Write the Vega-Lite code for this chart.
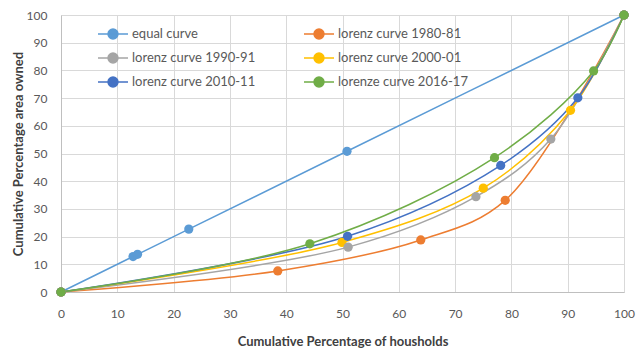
{
  "$schema": "https://vega.github.io/schema/vega-lite/v6.json",
  "width": 563,
  "height": 277,
  "autosize": {"type": "none"},
  "padding": {"left": 61, "top": 15, "right": 20, "bottom": 64},
  "background": "white",
  "config": {
    "font": "Lato",
    "view": {"stroke": null},
    "axis": {
      "gridColor": "#D9D9D9",
      "gridWidth": 1,
      "domainColor": "#BFBFBF",
      "ticks": false,
      "labelFlush": false,
      "labelColor": "#595959",
      "labelFontSize": 12,
      "labelFont": "Lato",
      "titleColor": "#404040",
      "titleFontSize": 13,
      "titleFont": "Lato",
      "titleFontWeight": "bold"
    }
  },
  "data": {
    "values": [
      {"series": "equal curve", "x": 0, "y": 0},
      {"series": "equal curve", "x": 12.8, "y": 12.8},
      {"series": "equal curve", "x": 13.6, "y": 13.6},
      {"series": "equal curve", "x": 22.7, "y": 22.7},
      {"series": "equal curve", "x": 50.8, "y": 50.8},
      {"series": "equal curve", "x": 100, "y": 100},
      {"series": "lorenz curve 1980-81", "x": 0, "y": 0},
      {"series": "lorenz curve 1980-81", "x": 38.5, "y": 7.6},
      {"series": "lorenz curve 1980-81", "x": 63.9, "y": 18.8},
      {"series": "lorenz curve 1980-81", "x": 78.9, "y": 33.1},
      {"series": "lorenz curve 1980-81", "x": 100, "y": 100},
      {"series": "lorenz curve 1990-91", "x": 0, "y": 0},
      {"series": "lorenz curve 1990-91", "x": 51.0, "y": 16.2},
      {"series": "lorenz curve 1990-91", "x": 73.7, "y": 34.4},
      {"series": "lorenz curve 1990-91", "x": 87.0, "y": 55.2},
      {"series": "lorenz curve 1990-91", "x": 100, "y": 100},
      {"series": "lorenz curve 2000-01", "x": 0, "y": 0},
      {"series": "lorenz curve 2000-01", "x": 49.9, "y": 17.9},
      {"series": "lorenz curve 2000-01", "x": 75.0, "y": 37.5},
      {"series": "lorenz curve 2000-01", "x": 90.5, "y": 65.6},
      {"series": "lorenz curve 2000-01", "x": 100, "y": 100},
      {"series": "lorenz curve 2010-11", "x": 0, "y": 0},
      {"series": "lorenz curve 2010-11", "x": 50.9, "y": 20.1},
      {"series": "lorenz curve 2010-11", "x": 78.1, "y": 45.7},
      {"series": "lorenz curve 2010-11", "x": 91.8, "y": 70.1},
      {"series": "lorenz curve 2010-11", "x": 100, "y": 100},
      {"series": "lorenze curve 2016-17", "x": 0, "y": 0},
      {"series": "lorenze curve 2016-17", "x": 44.2, "y": 17.4},
      {"series": "lorenze curve 2016-17", "x": 77.0, "y": 48.5},
      {"series": "lorenze curve 2016-17", "x": 94.6, "y": 79.8},
      {"series": "lorenze curve 2016-17", "x": 100, "y": 100}
    ]
  },
  "encoding": {
    "x": {
      "field": "x", "type": "quantitative",
      "scale": {"domain": [0, 100], "nice": false},
      "axis": {"values": [0,10,20,30,40,50,60,70,80,90,100], "labelPadding": 16, "title": "Cumulative Percentage  of housholds", "titlePadding": 16}
    },
    "y": {
      "field": "y", "type": "quantitative",
      "scale": {"domain": [0, 100], "nice": false},
      "axis": {"values": [0,10,20,30,40,50,60,70,80,90,100], "labelPadding": 14, "title": "Cumulative Percentage  area owned", "titlePadding": 1}
    },
    "color": {
      "field": "series", "type": "nominal",
      "scale": {
        "domain": ["equal curve", "lorenz curve 1980-81", "lorenz curve 1990-91", "lorenz curve 2000-01", "lorenz curve 2010-11", "lorenze curve 2016-17"],
        "range": ["#5B9BD5", "#ED7D31", "#A5A5A5", "#FFC000", "#4472C4", "#70AD47"]
      },
      "legend": {
        "orient": "none",
        "legendX": 36,
        "legendY": 3,
        "direction": "horizontal",
        "columns": 2,
        "title": null,
        "columnPadding": 45,
        "rowPadding": -4.5,
        "symbolType": "M-1,0L1,0M-0.33,0A0.33,0.33 0 1,0 0.33,0A0.33,0.33 0 1,0 -0.33,0Z",
        "symbolSize": 900,
        "symbolStrokeWidth": 1.5,
        "labelFontSize": 13,
        "labelColor": "#595959",
        "labelFont": "Lato",
        "labelOffset": 3,
        "encode": {
          "symbols": {
            "update": {
              "fill": {"field": "value", "scale": "color"},
              "stroke": {"field": "value", "scale": "color"},
              "opacity": {"value": 1}
            }
          }
        }
      }
    },
    "order": {"field": "x", "type": "quantitative"}
  },
  "layer": [
    {"mark": {"type": "line", "interpolate": "catmull-rom", "strokeWidth": 1.5}},
    {"mark": {"type": "point", "filled": true, "size": 85, "opacity": 1}}
  ]
}
